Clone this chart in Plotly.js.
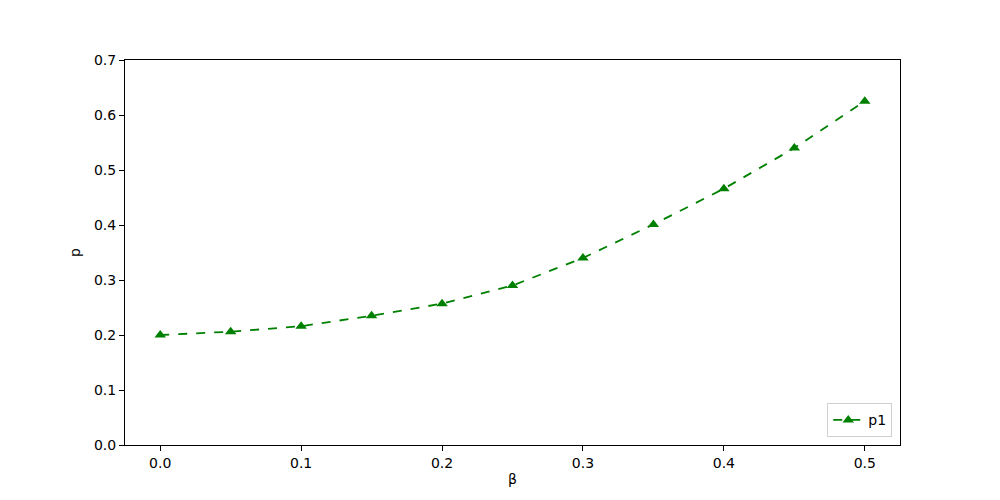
<!DOCTYPE html>
<html>
<head>
<meta charset="utf-8">
<script src="https://cdn.plot.ly/plotly-3.0.1.min.js"></script>
<style>
  html, body { margin: 0; padding: 0; background: #fff; }
  #chart { width: 1000px; height: 500px; }
</style>
</head>
<body>
<div id="chart"></div>
<script>
// Data
const beta = [0.0, 0.05, 0.1, 0.15, 0.2, 0.25, 0.3, 0.35, 0.4, 0.45, 0.5];
const p1 = [0.200, 0.206, 0.216, 0.235, 0.257, 0.290, 0.340, 0.401, 0.466, 0.540, 0.625];
const xTicks = [0.0, 0.1, 0.2, 0.3, 0.4, 0.5];
const yTicks = [0.0, 0.1, 0.2, 0.3, 0.4, 0.5, 0.6, 0.7];

const axisStyle = {
    showline: true,
    mirror: true,
    linecolor: "black",
    linewidth: 1,
    ticks: "outside",
    ticklen: 5,
    tickcolor: "black",
    showgrid: false,
    zeroline: false,
    tickfont: { size: 14, color: "black" },
};

const trace = {
    x: beta,
    y: p1,
    mode: "lines+markers",
    name: "p1",
    line: { color: "green", dash: "dash", width: 1.8 },
    marker: { symbol: "triangle-up", size: 10, color: "green" },
};

const layout = {
    width: 1000,
    height: 500,
    margin: { l: 125, r: 100, t: 60, b: 55 },
    paper_bgcolor: "white",
    plot_bgcolor: "white",
    font: { family: "DejaVu Sans", size: 14, color: "black" },
    xaxis: {
        ...axisStyle,
        range: [-0.025, 0.525],
        tickvals: xTicks,
        ticktext: xTicks.map(v => v.toFixed(1)),
        title: { text: "β", font: { size: 14 }, standoff: 4 },
    },
    yaxis: {
        ...axisStyle,
        range: [0, 0.7],
        tickvals: yTicks,
        ticktext: yTicks.map(v => v.toFixed(1)),
        title: { text: "p", font: { size: 14 }, standoff: 10 },
    },
    showlegend: true,
    legend: {
        x: 0.99,
        y: 0.02,
        xanchor: "right",
        yanchor: "bottom",
        bordercolor: "#d0d0d0",
        borderwidth: 1,
        bgcolor: "rgba(255,255,255,0.8)",
        font: { size: 14 },
    },
};

Plotly.newPlot("chart", [trace], layout, { displayModeBar: false });
</script>
</body>
</html>
